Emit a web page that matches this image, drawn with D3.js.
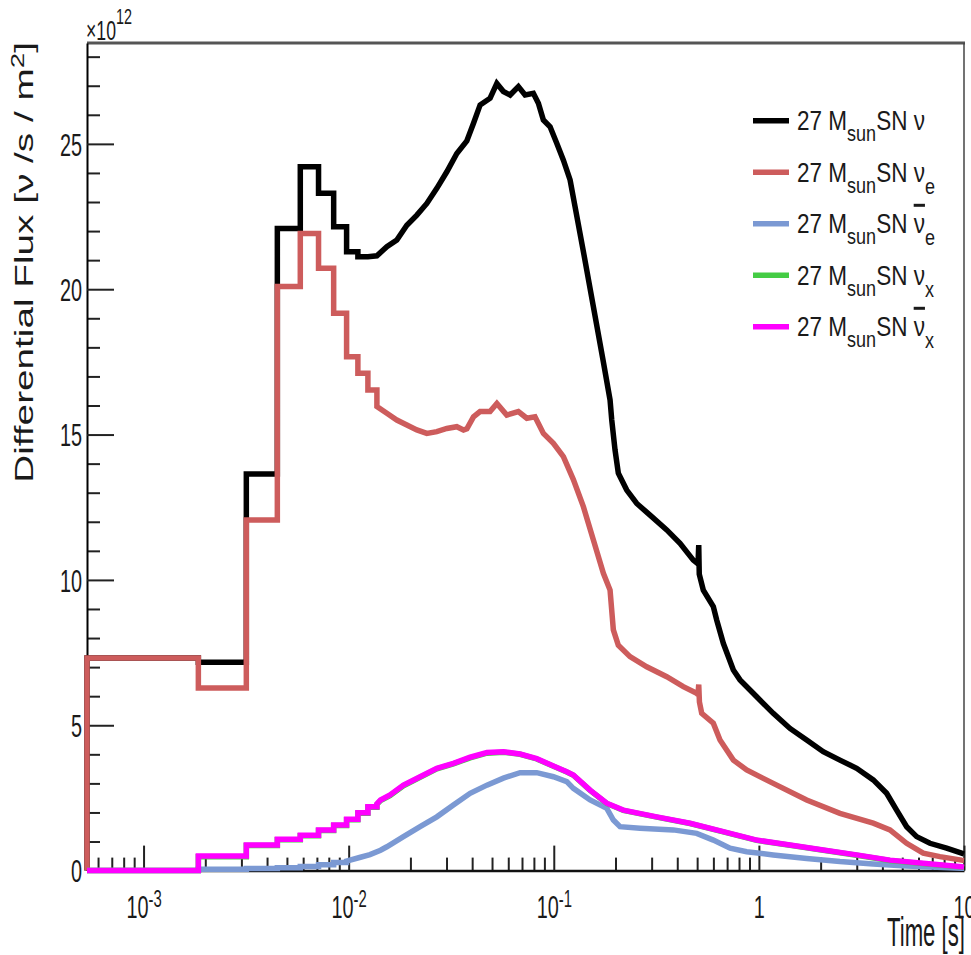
<!DOCTYPE html>
<html><head><meta charset="utf-8">
<script src="https://cdn.jsdelivr.net/npm/d3@7/dist/d3.min.js"></script>
<style>
html,body{margin:0;padding:0;background:#fff;}
svg{display:block;}
text{font-family:"Liberation Sans",Arial,Helvetica,sans-serif;fill:#1a1a1a;}
</style></head><body>
<svg id="chart" width="971" height="955"></svg>
<script>
// ---------------- data (time in s, flux in units of 1e12 nu/s/m^2) ----------------
// low edges of the early (wide-looking) histogram bins
const binEdges = [5.3e-4, 1.85e-3, 3.17e-3, 4.49e-3, 5.81e-3, 7.13e-3, 8.45e-3, 9.77e-3, 1.109e-2, 1.241e-2, 1.373e-2];

const blackBins = [7.31, 7.17, 13.64, 22.09, 24.21, 23.30, 22.15, 21.29, 21.12];
const blackTail = [[0.01241,21.12],[0.01373,21.15],[0.01535,21.46],[0.01717,21.69],[0.01921,22.2],[0.0215,22.55],[0.02405,22.95],[0.0269,23.47],[0.0301,24.04],[0.03367,24.67],[0.03767,25.1],[0.04057,25.7],[0.04374,26.34],[0.04893,26.57],[0.05277,27.08],[0.05681,26.8],[0.06124,26.68],[0.06722,26.97],[0.07246,26.68],[0.07954,26.74],[0.08414,26.4],[0.08898,25.82],[0.09594,25.59],[0.1034,25.02],[0.1114,24.44],[0.1201,23.76],[0.127,22.84],[0.1394,21.3],[0.156,19.4],[0.1745,17.5],[0.1881,16.19],[0.1917,15.5],[0.1989,14.47],[0.2064,13.67],[0.2268,13.09],[0.2538,12.63],[0.2946,12.23],[0.3554,11.72],[0.4125,11.26],[0.4789,10.68],[0.505,10.55],[0.509,11.2],[0.512,10.2],[0.5358,9.65],[0.5995,9.08],[0.6227,8.62],[0.6707,7.82],[0.7507,6.9],[0.8091,6.56],[0.9757,5.98],[1.175,5.41],[1.418,4.89],[1.71,4.49],[2.06,4.09],[2.484,3.8],[2.997,3.52],[3.61,3.12],[4.196,2.66],[4.694,2.08],[5.252,1.51],[5.875,1.17],[6.822,0.94],[8.226,0.77],[9.734,0.6],[10,0.57]];

const redBins = [7.31, 6.28, 12.06, 20.09, 21.92, 20.72, 19.17, 17.68, 17.11, 16.53];
const redTail = [[0.01373,15.96],[0.01535,15.73],[0.01717,15.5],[0.01921,15.33],[0.0215,15.16],[0.02405,15.04],[0.0269,15.1],[0.0301,15.21],[0.03367,15.27],[0.0363,15.16],[0.0377,15.2],[0.0406,15.61],[0.0437,15.79],[0.0489,15.79],[0.0528,16.07],[0.059,15.67],[0.0672,15.79],[0.0739,15.56],[0.081,15.61],[0.089,15.04],[0.0996,14.7],[0.1114,14.24],[0.1246,13.45],[0.1394,12.52],[0.156,11.37],[0.1745,10.23],[0.1881,9.65],[0.1952,8.28],[0.2064,7.75],[0.2353,7.36],[0.2839,7.01],[0.3554,6.67],[0.4281,6.33],[0.4975,6.1],[0.505,6.05],[0.509,6.4],[0.513,5.8],[0.5263,5.41],[0.5995,5.07],[0.6463,4.49],[0.7507,3.8],[0.872,3.46],[1.175,3.0],[1.71,2.43],[2.484,1.97],[3.61,1.63],[4.354,1.4],[5.252,0.94],[6.327,0.6],[7.63,0.48],[9.734,0.36],[10,0.35]];

const blueBins = [0, 0.05, 0.07, 0.1, 0.14, 0.2, 0.28];
const blueTail = [[0.00977,0.33],[0.0113,0.45],[0.0127,0.55],[0.0143,0.7],[0.01535,0.82],[0.0185,1.17],[0.0223,1.51],[0.0269,1.85],[0.0324,2.26],[0.0391,2.66],[0.0472,2.94],[0.0568,3.18],[0.0685,3.37],[0.0826,3.37],[0.0996,3.23],[0.1157,3.06],[0.1246,2.83],[0.1503,2.43],[0.1813,2.14],[0.1952,1.74],[0.2104,1.51],[0.2633,1.46],[0.3826,1.4],[0.4975,1.28],[0.5995,1.05],[0.7234,0.77],[0.872,0.65],[1.175,0.54],[1.71,0.42],[2.484,0.31],[3.61,0.23],[5.252,0.16],[9.734,0.08],[10,0.08]];

const greenBins = [0, 0.48, 0.86, 1.06, 1.2, 1.38, 1.55, 1.75, 1.97, 2.18];
const greenTail = [[0.01373,2.28],[0.0143,2.41],[0.0159,2.58],[0.0185,2.92],[0.0223,3.21],[0.0269,3.5],[0.0324,3.67],[0.0391,3.88],[0.0472,4.04],[0.0568,4.07],[0.0685,4.0],[0.0826,3.84],[0.0996,3.59],[0.1157,3.39],[0.1246,3.28],[0.1503,2.76],[0.1813,2.31],[0.2183,2.07],[0.3176,1.84],[0.4615,1.62],[0.6707,1.33],[0.9757,1.04],[1.418,0.87],[2.06,0.7],[2.997,0.53],[4.354,0.35],[6.327,0.24],[9.734,0.12],[10,0.11]];

const magentaBins = [0, 0.5, 0.88, 1.08, 1.22, 1.40, 1.57, 1.77, 1.99, 2.2];
const magentaTail = [[0.01373,2.3],[0.0143,2.43],[0.0159,2.6],[0.0185,2.94],[0.0223,3.23],[0.0269,3.52],[0.0324,3.69],[0.0391,3.9],[0.0472,4.06],[0.0568,4.09],[0.0685,4.01],[0.0826,3.85],[0.0996,3.6],[0.1157,3.4],[0.1246,3.29],[0.1503,2.77],[0.1813,2.32],[0.2183,2.08],[0.3176,1.85],[0.4615,1.63],[0.6707,1.34],[0.9757,1.05],[1.418,0.88],[2.06,0.71],[2.997,0.54],[4.354,0.36],[6.327,0.25],[9.734,0.13],[10,0.12]];

const seriesColors = ["#000000", "#cd5c5c", "#7b99d3", "#44cc44", "#ff00ff"];
const legendSubs = ["", "e", "e", "x", "x"];
const legendBars = [false, false, true, false, true];

const xMajorTicks = [1e-3, 1e-2, 1e-1, 1, 10];
const xTickBase = ["10", "10", "10", "1", "10"];
const xTickExp = ["-3", "-2", "-1", "", ""];
const yMajorTicks = [0, 5, 10, 15, 20, 25];

// ---------------- chart ----------------
const svg = d3.select("#chart");
const L = 87, R = 964, T = 43, B = 870.6;
const x = d3.scaleLog().domain([5.3e-4, 10]).range([L, R]);
const y = d3.scaleLinear().domain([0, 28.47]).range([B, T]);

// frame
svg.append("line").attr("x1", L).attr("x2", R + 1).attr("y1", T).attr("y2", T)
  .attr("stroke", "#555").attr("stroke-width", 3);
svg.append("line").attr("x1", R).attr("x2", R).attr("y1", T).attr("y2", B)
  .attr("stroke", "#444").attr("stroke-width", 1.5);

// y axis
const yMinor = y.ticks(28).filter(v => v % 5 !== 0);
const yMinorAxis = svg.append("g").attr("transform", `translate(${L},0)`)
  .call(d3.axisLeft(y).tickValues(yMinor).tickSizeInner(-13).tickSizeOuter(0).tickFormat(""));
yMinorAxis.select(".domain").remove();
yMinorAxis.selectAll(".tick line").attr("stroke", "#222").attr("stroke-width", 2);
const yAxis = svg.append("g").attr("transform", `translate(${L},0)`)
  .call(d3.axisLeft(y).tickValues(yMajorTicks).tickSizeInner(-27).tickSizeOuter(0).tickFormat(""));
yAxis.select(".domain").attr("stroke", "#000").attr("stroke-width", 2);
yAxis.selectAll(".tick line").attr("stroke", "#222").attr("stroke-width", 2);
yAxis.selectAll(".tick").append("text")
  .attr("transform", "translate(-5,0) scale(0.62,1)")
  .attr("text-anchor", "end").attr("dy", "0.35em")
  .attr("font-size", 32).attr("fill", "#1a1a1a")
  .text(d => d);

// x axis
const xMinor = x.ticks().filter(v => !xMajorTicks.some(m => Math.abs(m - v) / m < 1e-6));
const xMinorAxis = svg.append("g").attr("transform", `translate(0,${B})`)
  .call(d3.axisBottom(x).tickValues(xMinor).tickSizeInner(-13).tickSizeOuter(0).tickFormat(""));
xMinorAxis.select(".domain").remove();
xMinorAxis.selectAll(".tick line").attr("stroke", "#222").attr("stroke-width", 2);
const xAxis = svg.append("g").attr("transform", `translate(0,${B})`)
  .call(d3.axisBottom(x).tickValues(xMajorTicks).tickSizeInner(-25).tickSizeOuter(0).tickFormat(""));
xAxis.select(".domain").attr("stroke", "#111").attr("stroke-width", 2.5);
xAxis.selectAll(".tick line").attr("stroke", "#222").attr("stroke-width", 2);
xAxis.selectAll(".tick").each(function(d, i) {
  const t = d3.select(this).append("text")
    .attr("transform", "translate(0,47) scale(0.62,1)")
    .attr("text-anchor", "middle").attr("font-size", 32).attr("fill", "#1a1a1a");
  t.append("tspan").text(xTickBase[i]);
  if (xTickExp[i]) t.append("tspan").attr("dy", -11).attr("font-size", 24).text(xTickExp[i]);
});

// helper: text squeezed horizontally to a target width
function squeezed(parent, tx, ty, rot, anchor, size, targetW, build) {
  const g = parent.append("g").attr("transform", `translate(${tx},${ty})` + (rot ? ` rotate(${rot})` : ""));
  const inner = g.append("g");
  const t = inner.append("text").attr("text-anchor", anchor).attr("font-size", size);
  build(t);
  const w = t.node().getComputedTextLength();
  inner.attr("transform", `scale(${targetW / w},1)`);
  return {g, inner, t};
}

// axis titles
squeezed(svg, 33, 42, -90, "end", 25, 441, t => {
  t.append("tspan").text("Differential Flux [ν /s / m");
  t.append("tspan").attr("dy", -9).attr("font-size", 18).text("2");
  t.append("tspan").attr("dy", 9).text("]");
});
squeezed(svg, 965, 946, 0, "end", 40, 78, t => t.text("Time [s]"));
squeezed(svg, 86, 40, 0, "start", 27, 46, t => {
  t.append("tspan").text("×10");
  t.append("tspan").attr("dy", -16).attr("font-size", 22).text("12");
});

// series
function histPoints(bins, tail) {
  const pts = [[binEdges[0], 0]];
  bins.forEach((v, i) => { pts.push([binEdges[i], v], [binEdges[i + 1], v]); });
  return pts.concat(tail);
}
const series = [
  histPoints(blackBins, blackTail),
  histPoints(redBins, redTail),
  histPoints(blueBins, blueTail),
  histPoints(greenBins, greenTail),
  histPoints(magentaBins, magentaTail)
];
const line = d3.line().x(d => x(d[0])).y(d => y(d[1]));
svg.append("g").selectAll("path").data(series).join("path")
  .attr("d", line).attr("fill", "none")
  .attr("stroke", (d, i) => seriesColors[i])
  .attr("stroke-width", 5.5).attr("stroke-linejoin", "miter").attr("stroke-miterlimit", 2);

// legend
const legend = svg.append("g");
let legendScale = null;
seriesColors.forEach((c, i) => {
  const yc = 120.7 + i * 51.5;
  legend.append("line").attr("x1", 753).attr("x2", 789).attr("y1", yc).attr("y2", yc)
    .attr("stroke", c).attr("stroke-width", 5.5);
  const g = legend.append("g").attr("transform", `translate(797,${yc + 9.6})`);
  const inner = g.append("g");
  const t = inner.append("text").attr("font-size", 27.5);
  t.append("tspan").text("27 M");
  t.append("tspan").attr("dy", 11).attr("font-size", 22).text("sun");
  t.append("tspan").attr("dy", -11).text("SN ");
  t.append("tspan").text("ν");
  if (legendSubs[i]) t.append("tspan").attr("dy", 12).attr("font-size", 22).text(legendSubs[i]);
  if (legendScale === null) legendScale = 128 / t.node().getComputedTextLength();
  inner.attr("transform", `scale(${legendScale},1)`);
  if (legendBars[i]) {
    const idx = t.node().textContent.indexOf("ν");
    const ext = t.node().getExtentOfChar(idx);
    inner.append("line").attr("x1", ext.x).attr("x2", ext.x + ext.width)
      .attr("y1", -28).attr("y2", -28).attr("stroke", "#1a1a1a").attr("stroke-width", 3);
  }
});
</script>
</body></html>
